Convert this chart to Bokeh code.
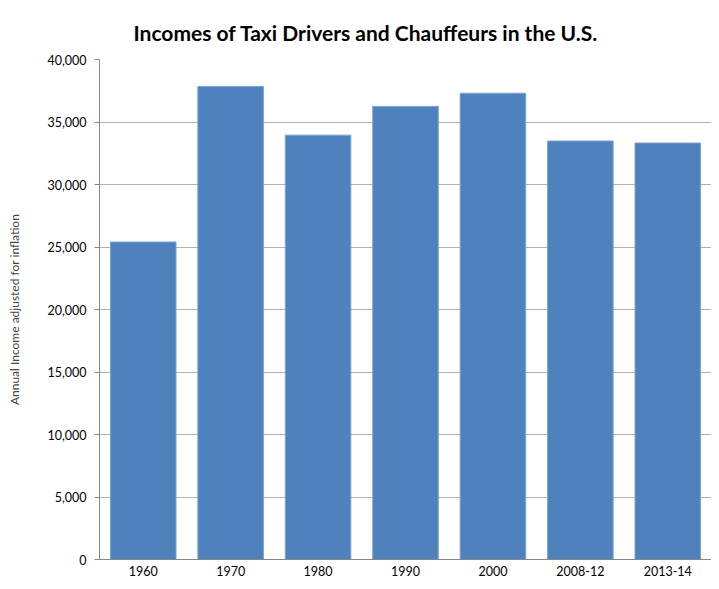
from bokeh.plotting import figure
from bokeh.models import ColumnDataSource, Range1d, NumeralTickFormatter, FixedTicker
from bokeh.embed import file_html
from bokeh.resources import INLINE

periods = ["1960", "1970", "1980", "1990", "2000", "2008-12", "2013-14"]
incomes = [25400, 37850, 33950, 36250, 37300, 33480, 33320]
y_ticks = [0, 5000, 10000, 15000, 20000, 25000, 30000, 35000, 40000]

src = ColumnDataSource(dict(period=periods, income=incomes))

FONT = "Lato"

p = figure(x_range=periods, y_range=Range1d(0, 40000),
           width=711, height=581, output_backend="svg", toolbar_location=None,
           title="Incomes of Taxi Drivers and Chauffeurs in the U.S.",
           min_border_left=99, min_border_right=0, min_border_top=59, min_border_bottom=22)

p.vbar(x="period", top="income", width=0.75, source=src,
       fill_color="#4F81BD", line_color="#7EA3D3", line_width=1)

p.title.align = "left"
p.title.offset = 34
p.title.text_font = FONT
p.title.text_font_size = "21px"
p.title.text_font_style = "bold"
p.title.text_color = "#000000"
p.title.standoff = 30

p.outline_line_color = None
p.xgrid.grid_line_color = None
p.ygrid.grid_line_color = "#B0B0B0"
p.ygrid.grid_line_width = 1

p.yaxis.ticker = FixedTicker(ticks=y_ticks)
p.yaxis.formatter = NumeralTickFormatter(format="0,0")
p.yaxis.axis_label = "Annual Income adjusted for inflation"
p.yaxis.axis_label_text_font = FONT
p.yaxis.axis_label_text_font_size = "12px"
p.yaxis.axis_label_text_font_style = "normal"
p.yaxis.axis_label_standoff = 22
p.yaxis.minor_tick_line_color = None
p.yaxis.major_tick_out = 5
p.yaxis.major_tick_in = 0

for ax in (p.xaxis, p.yaxis):
    ax.axis_line_color = "#868686"
    ax.major_tick_line_color = "#868686"
    ax.major_label_text_font = FONT
    ax.major_label_text_font_size = "12.5px"
    ax.major_label_text_color = "#000000"
    ax.major_label_standoff = 8

p.xaxis.major_tick_line_color = None
p.xaxis.major_tick_out = 0
p.xaxis.major_label_standoff = 6

open("out.html", "w").write(file_html(p, INLINE))
